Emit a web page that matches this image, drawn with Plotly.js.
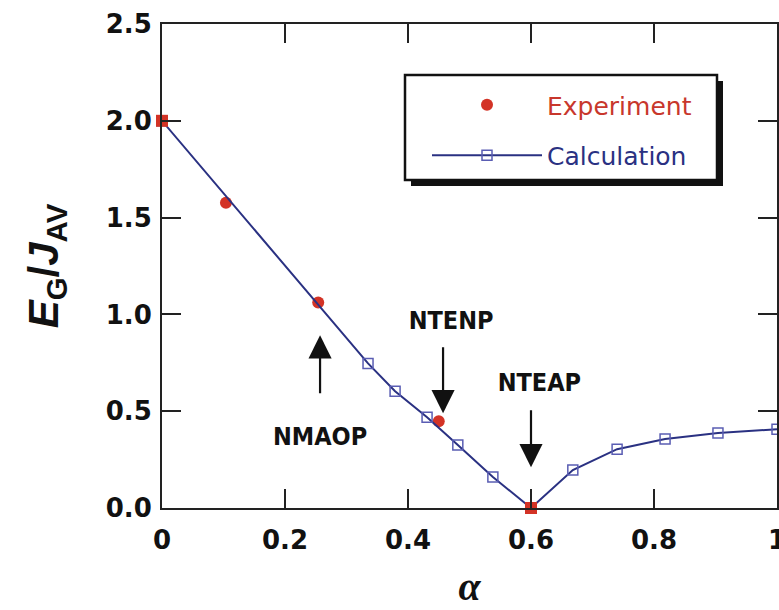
<!DOCTYPE html>
<html>
<head>
<meta charset="utf-8">
<script src="https://cdn.plot.ly/plotly-3.0.1.min.js"></script>
<style>html,body{margin:0;padding:0;background:#fff;}#chart{width:779px;height:610px;}</style>
</head>
<body>
<div id="chart"></div>
<script>
// Experiment data (alpha, E_G/J_AV)
const expAlpha = [0, 0.104, 0.254, 0.450, 0.6];
const expEG    = [2.0, 1.577, 1.062, 0.448, 0.0];
// Calculation data
const calcAlpha = [0, 0.335, 0.379, 0.431, 0.481, 0.538, 0.6, 0.668, 0.740, 0.818, 0.904, 1.0];
const calcEG    = [2.0, 0.747, 0.603, 0.469, 0.325, 0.160, 0.0, 0.196, 0.304, 0.356, 0.387, 0.407];
// Tick labels
const xTickVals = [0, 0.2, 0.4, 0.6, 0.8, 1];
const xTickText = ['0', '0.2', '0.4', '0.6', '0.8', '1'];
const yTickVals = [0, 0.5, 1.0, 1.5, 2.0, 2.5];
const yTickText = ['0.0', '0.5', '1.0', '1.5', '2.0', '2.5'];
// Annotated phases (arrow tip position in data units)
const phaseNames = ['NMAOP', 'NTENP', 'NTEAP'];
const phaseAlpha = [0.257, 0.457, 0.600];
const phaseTipY  = [0.892, 0.490, 0.211];

const RED = '#d33326', NAVY = '#2a3182', SQ = '#5a5db3';

// endpoints where experiment coincides with the calculated curve drawn as squares
const isEnd = expAlpha.map((a, i) => i === 0 || i === expAlpha.length - 1);

const traces = [
  {
    x: expAlpha.filter((a, i) => !isEnd[i]), y: expEG.filter((a, i) => !isEnd[i]),
    type: 'scatter', mode: 'markers',
    name: '<span style="color:#c8372c">Experiment</span>',
    marker: {symbol: 'circle', size: 12, color: RED},
    cliponaxis: false, legendgroup: 'a'
  },
  {
    x: calcAlpha, y: calcEG, type: 'scatter', mode: 'lines+markers',
    name: '<span style="color:#2a3182">Calculation</span>',
    line: {color: NAVY, width: 2},
    marker: {symbol: 'square-open', size: 10, color: SQ, line: {width: 1.5, color: SQ}},
    cliponaxis: false, legendgroup: 'b'
  },
  {
    x: expAlpha.filter((a, i) => isEnd[i]), y: expEG.filter((a, i) => isEnd[i]),
    type: 'scatter', mode: 'markers', showlegend: false,
    marker: {symbol: 'square', size: 12, color: RED},
    cliponaxis: false, legendgroup: 'a'
  }
];

const W = 779, H = 610, ML = 162, MR = 2, MT = 24, MB = 102;
const PW = W - ML - MR, PH = H - MT - MB;
const px = v => (v - ML) / PW;
const py = v => (H - MB - v) / PH;

// label offsets from arrow tip (px), tail gap, and small left padding to nudge label right
const labelAy = [101, -93, -85];
const labelGap = [27, 11, 12];
const labelPad = ['', '&nbsp;&nbsp;', '&nbsp;&nbsp;'];
const annotations = phaseNames.map((n, i) => ({
  xref: 'x', yref: 'y', x: phaseAlpha[i], y: phaseTipY[i],
  ax: 0, ay: labelAy[i], text: labelPad[i] + n, showarrow: true,
  arrowhead: 2, arrowsize: 2.1, arrowwidth: 2.2, arrowcolor: '#111',
  startstandoff: labelGap[i],
  font: {family: 'DejaVu Sans Condensed', size: 25, color: '#111', weight: 'bold'}
}));

const layout = {
  width: W, height: H,
  margin: {l: ML, r: MR, t: MT, b: MB},
  paper_bgcolor: '#fff', plot_bgcolor: '#fff',
  showlegend: true,
  legend: {
    x: px(427), y: py(82), xanchor: 'left', yanchor: 'top',
    bgcolor: 'rgba(0,0,0,0)', borderwidth: 0,
    font: {family: 'DejaVu Sans', size: 25, color: '#222'},
    tracegroupgap: 15, itemwidth: 110, traceorder: 'grouped'
  },
  xaxis: {
    range: [0, 1], tickvals: xTickVals, ticktext: xTickText,
    ticks: 'inside', ticklen: 19, tickwidth: 2, tickcolor: '#222',
    showline: true, linewidth: 2, linecolor: '#222', mirror: 'ticks',
    showgrid: false, zeroline: false, ticklabelstandoff: 8, ticklabeloverflow: 'allow',
    tickfont: {family: 'DejaVu Sans', size: 26, color: '#111', weight: 'bold'},
    title: {text: '<i>α</i>', standoff: 18,
      font: {family: 'Liberation Serif', size: 40, color: '#111', weight: 'bold'}}
  },
  yaxis: {
    range: [0, 2.5], tickvals: yTickVals, ticktext: yTickText,
    ticks: 'inside', ticklen: 19, tickwidth: 2, tickcolor: '#222',
    showline: true, linewidth: 2, linecolor: '#222', mirror: 'ticks',
    showgrid: false, zeroline: false, ticklabelstandoff: 3,
    tickfont: {family: 'DejaVu Sans', size: 26, color: '#111', weight: 'bold'},
    title: {text: '<i>E</i><sub>G</sub>/<i>J</i><sub>AV</sub>', standoff: 34,
      font: {family: 'Liberation Sans', size: 42, color: '#111', weight: 'bold'}}
  },
  shapes: [
    {type: 'rect', xref: 'paper', yref: 'paper', x0: px(411), x1: px(723), y0: py(186), y1: py(81),
     fillcolor: '#111', line: {width: 0}},
    {type: 'rect', xref: 'paper', yref: 'paper', x0: px(405), x1: px(717), y0: py(180), y1: py(75),
     fillcolor: '#fff', line: {width: 2.5, color: '#111'}}
  ],
  annotations: annotations
};

Plotly.newPlot('chart', traces, layout, {displayModeBar: false, staticPlot: true});
</script>
</body>
</html>
